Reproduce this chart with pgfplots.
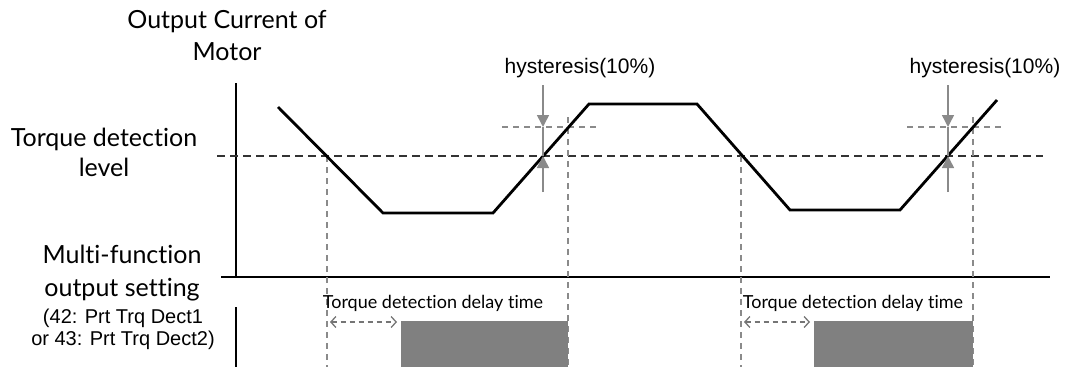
\documentclass[border=0pt]{standalone}
\usepackage{pgfplots}
\pgfplotsset{compat=1.18}
\usepackage{fontspec}
\setmainfont[Ligatures={NoCommon,NoRare,NoDiscretionary}]{Lato}
\newfontfamily\arialf{Liberation Sans}
\usetikzlibrary{arrows.meta}
\definecolor{dk}{HTML}{333333}
\definecolor{gr}{HTML}{8A8A8A}
\definecolor{boxg}{HTML}{808080}
\begin{document}
\begin{tikzpicture}
\begin{axis}[
  scale only axis, width=1069bp, height=367bp,
  xmin=0, xmax=1069, ymin=0, ymax=367, y dir=reverse,
  hide axis, clip=false,
]
% axes
\addplot[black, line width=1.5bp] coordinates {(236,83) (236,277)};
\addplot[black, line width=1.5bp] coordinates {(221,277) (1050,277)};
\addplot[black, line width=1.5bp] coordinates {(236,307) (236,367)};
% detection level
\addplot[dk, line width=1.3bp, dash pattern=on 8bp off 5bp] coordinates {(217,156) (1043,156)};
% hysteresis levels
\addplot[gr, line width=1.3bp, dash pattern=on 6bp off 5bp] coordinates {(502,127) (598,127)};
\addplot[gr, line width=1.3bp, dash pattern=on 6bp off 5bp] coordinates {(907,127) (1003,127)};
% vertical dashed
\addplot[gr, line width=1.3bp, dash pattern=on 6bp off 5bp] coordinates {(327,156) (327,367)};
\addplot[gr, line width=1.3bp, dash pattern=on 6bp off 5bp] coordinates {(568,117) (568,367)};
\addplot[gr, line width=1.3bp, dash pattern=on 6bp off 5bp] coordinates {(741,156) (741,367)};
\addplot[gr, line width=1.3bp, dash pattern=on 6bp off 5bp] coordinates {(973,117) (973,367)};
% output boxes
\addplot[fill=boxg, draw=none] coordinates {(401,321) (568,321) (568,367) (401,367)} -- cycle;
\addplot[fill=boxg, draw=none] coordinates {(814,321) (973,321) (973,367) (814,367)} -- cycle;
% current curve
\addplot[black, line width=2.8bp, line join=miter] coordinates {
 (278,107) (383,213) (493,213) (589,104) (697,104) (790,210) (900,210) (997,100)};
% hysteresis arrows
\addplot[gr, line width=1.5bp, -{Triangle[length=12bp,width=12bp]}] coordinates {(543,85) (543,127)};
\addplot[gr, line width=1.5bp, -{Triangle[length=12bp,width=12bp]}] coordinates {(543,192) (543,156)};
\addplot[gr, line width=1.5bp] coordinates {(543,127) (543,156)};
\addplot[gr, line width=1.5bp, -{Triangle[length=12bp,width=12bp]}] coordinates {(948,85) (948,127)};
\addplot[gr, line width=1.5bp, -{Triangle[length=12bp,width=12bp]}] coordinates {(948,192) (948,156)};
\addplot[gr, line width=1.5bp] coordinates {(948,127) (948,156)};
% delay arrows
\addplot[gr!85!black, line width=1.3bp, dash pattern=on 5bp off 4bp, {Straight Barb[length=5bp,width=11bp]}-{Straight Barb[length=5bp,width=11bp]}] coordinates {(330,322) (397,322)};
\addplot[gr!85!black, line width=1.3bp, dash pattern=on 5bp off 4bp, {Straight Barb[length=5bp,width=11bp]}-{Straight Barb[length=5bp,width=11bp]}] coordinates {(744,322) (810,322)};
% texts
\node[font=\arialf\fontsize{21bp}{25bp}\selectfont] at (axis cs:580,68) {hysteresis(10\%)};
\node[font=\arialf\fontsize{21bp}{25bp}\selectfont] at (axis cs:985,68) {hysteresis(10\%)};
\node[font=\fontsize{18bp}{22bp}\selectfont] at (axis cs:433,303) {Torque detection delay time};
\node[font=\fontsize{18bp}{22bp}\selectfont] at (axis cs:853,303) {Torque detection delay time};
\node[font=\fontsize{25bp}{32bp}\selectfont, align=center] at (axis cs:227,36) {Output Current of\\Motor};
\node[font=\fontsize{25bp}{30bp}\selectfont, align=center] at (axis cs:104,152) {Torque detection\\level};
\node[font=\fontsize{25bp}{33bp}\selectfont, align=center] at (axis cs:122,273) {Multi-function\\output setting};
\node[font=\arialf\fontsize{20bp}{22bp}\selectfont, align=center] at (axis cs:123,329) {(42: Prt Trq Dect1\\or 43: Prt Trq Dect2)};
\end{axis}
\pgfresetboundingbox
\path (current axis.south west) rectangle (current axis.north east);
\end{tikzpicture}
\end{document}
